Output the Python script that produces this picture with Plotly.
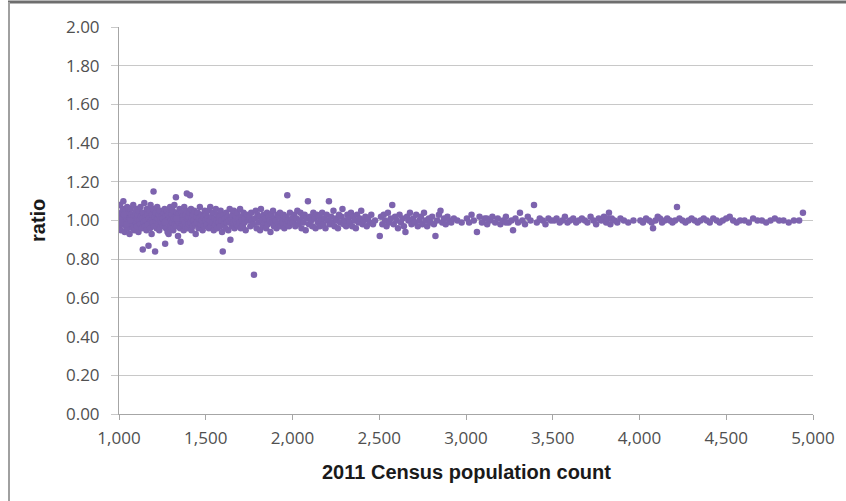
import plotly.graph_objects as go

# ---- data ----
pop1 = [1001,1003,1006,1008,1011,1013,1017,1019,1022,1025,
        1027,1030,1033,1036,1038,1041,1044,1047,1049,1052,
        1056,1058,1061,1064,1067,1070,1072,1076,1079,1082,
        1085,1088,1091,1094,1097,1100,1103,1106,1109,1112,
        1116,1118,1121,1124,1127,1131,1134,1137,1139,1142,
        1146,1149,1152,1155,1158,1161,1164,1167,1170,1173,
        1176,1179,1182,1185,1188,1191,1194,1197,1199,1202,
        1205,1208,1211,1214,1217,1220,1223,1226,1229,1232,
        1235,1238,1241,1244,1247,1004,1015,1028,1043,1066]
ratio1 = [1.02,0.97,1.08,1.00,0.95,1.04,1.01,0.98,1.06,1.10,
          0.99,1.03,0.94,1.01,1.05,0.97,1.00,1.07,0.96,1.02,
          0.99,1.04,0.93,1.01,1.06,0.98,1.03,1.00,0.96,1.08,
          1.02,0.95,1.00,1.04,0.99,1.06,0.97,1.01,1.03,0.94,
          1.05,1.00,0.98,1.07,1.02,0.96,1.01,0.85,1.04,0.99,
          1.09,0.97,1.02,1.00,0.95,1.06,1.03,0.98,0.87,1.01,
          1.05,0.96,1.08,1.00,0.93,1.03,0.99,1.06,1.15,0.97,
          1.02,0.84,1.04,1.00,0.96,1.07,1.01,0.98,1.03,0.95,
          1.05,1.00,0.97,1.02,0.99,1.01,0.99,1.03,0.98,1.00]

pop2 = [1251,1254,1257,1260,1263,1266,1268,1271,1274,1277,
        1280,1283,1286,1289,1292,1295,1298,1301,1304,1307,
        1310,1313,1316,1319,1322,1325,1328,1331,1334,1337,
        1340,1343,1346,1349,1352,1355,1358,1361,1364,1367,
        1370,1373,1376,1379,1382,1385,1388,1391,1394,1397,
        1400,1403,1406,1409,1412,1415,1418,1421,1424,1427,
        1430,1434,1438,1442,1446,1450,1454,1458,1462,1466,
        1470,1474,1478,1482,1486,1490,1494,1497,1265,1330]
ratio2 = [1.01,0.97,1.04,0.99,1.06,0.88,1.02,0.96,1.00,1.05,
          0.94,1.03,0.93,1.01,0.98,1.07,1.00,0.96,1.03,0.99,
          1.05,0.95,1.01,1.08,0.98,1.02,1.12,0.97,1.04,1.00,
          0.92,1.03,0.99,1.06,0.96,0.89,1.01,1.04,0.98,1.02,
          1.00,0.95,1.07,0.99,1.03,0.97,1.05,1.14,1.01,0.96,
          1.02,0.98,1.04,1.13,0.99,1.06,0.95,1.01,0.97,1.03,
          1.00,1.05,0.98,0.93,1.02,0.99,1.04,0.96,1.01,1.07,
          0.98,1.03,1.00,0.95,1.02,0.97,1.05,1.00,0.99,1.01]

pop3 = [1502,1506,1510,1514,1518,1522,1526,1530,1534,1538,
        1542,1546,1550,1554,1558,1562,1566,1570,1574,1578,
        1582,1586,1590,1594,1598,1602,1606,1610,1614,1618,
        1622,1626,1630,1634,1638,1642,1646,1650,1654,1658,
        1662,1666,1670,1674,1678,1682,1686,1690,1694,1698,
        1702,1706,1710,1714,1718,1722,1726,1730,1736,1744]
ratio3 = [1.03,0.98,1.01,1.05,0.96,1.00,1.07,0.97,1.02,0.99,
          1.04,0.95,1.01,0.98,1.06,1.00,0.96,1.03,0.99,1.02,
          0.97,1.05,1.00,0.94,0.84,1.03,0.98,1.01,0.96,1.04,
          0.99,1.02,0.95,1.00,1.06,0.90,1.01,0.97,1.03,0.99,
          1.05,0.96,1.00,1.02,0.98,1.04,0.97,1.01,0.99,1.06,
          0.96,1.02,1.00,0.97,1.04,0.99,1.01,0.95,1.03,1.00]

pop4 = [1752,1757,1762,1767,1772,1778,1783,1788,1793,1798,
        1803,1808,1813,1818,1823,1828,1833,1838,1843,1848,
        1853,1858,1863,1868,1873,1878,1883,1888,1893,1898,
        1903,1908,1913,1918,1923,1928,1933,1938,1943,1948,
        1953,1958,1962,1966,1970,1975,1980,1985,1990,1996]
ratio4 = [1.02,0.97,1.04,1.00,0.98,0.72,1.01,1.05,0.96,1.03,
          0.99,1.02,0.95,1.06,1.00,0.97,1.03,0.99,1.01,0.96,
          1.04,0.98,1.02,1.00,0.94,1.03,0.99,1.05,0.97,1.01,
          1.00,0.96,1.03,0.98,1.02,1.04,0.97,1.00,0.99,1.03,
          0.96,1.01,1.02,0.98,1.13,1.00,0.97,1.04,0.99,1.01]

pop5 = [2003,2010,2016,2022,2028,2034,2040,2046,2052,2058,
        2064,2070,2076,2082,2089,2095,2101,2108,2114,2120,
        2127,2133,2140,2146,2152,2158,2165,2171,2178,2184,
        2190,2197,2203,2210,2216,2223,2229,2236,2242,2249,
        2255,2262,2268,2275,2282,2288,2295,2302,2309,2316,
        2323,2330,2337,2344,2351,2358,2365,2372,2380,2388,
        2396,2404,2412,2420,2428,2436,2445,2454,2464,2476]
ratio5 = [0.99,1.03,0.97,1.01,1.05,0.98,1.00,1.04,0.96,1.02,
          0.99,1.03,0.95,1.01,1.10,0.98,1.02,1.00,0.97,1.04,
          1.01,0.96,1.03,0.99,1.02,0.97,1.00,1.04,0.98,1.01,
          0.96,1.03,1.00,1.10,0.98,1.02,0.99,1.05,0.97,1.01,
          1.00,0.96,1.03,0.99,1.02,1.06,0.98,1.00,0.97,1.03,
          1.01,0.99,1.04,0.97,1.02,1.00,0.96,1.03,0.99,1.01,
          1.05,0.98,1.00,1.02,0.97,1.01,0.99,1.03,0.98,1.00]

pop6 = [2503,2510,2518,2526,2534,2542,2550,2558,2566,2575,
        2583,2591,2600,2608,2617,2625,2634,2642,2651,2660,
        2668,2677,2686,2695,2704,2713,2722,2731,2740,2749,
        2758,2767,2776,2786,2795,2805,2815,2824,2834,2844,
        2853,2863,2873,2883,2893,2904,2915,2930,2950,2975]
ratio6 = [0.92,1.02,0.98,1.03,1.00,0.97,1.04,0.99,1.01,1.08,
          0.98,1.02,1.00,0.96,1.03,0.99,1.01,0.97,0.94,1.02,
          1.00,1.04,0.98,1.01,0.99,1.03,0.97,1.00,1.02,0.98,
          1.04,1.00,0.97,1.01,0.99,1.02,0.98,0.92,1.00,1.03,
          1.05,0.99,1.01,0.98,1.02,1.00,0.99,1.01,1.00,0.99]

pop7 = [3005,3018,3032,3045,3063,3078,3092,3108,3122,3138,
        3152,3168,3183,3198,3214,3230,3246,3262,3271,3285,
        3300,3311,3325,3340,3356,3372,3392,3408,3425,3442,
        3458,3475,3490,3120,3230]
ratio7 = [1.01,0.99,1.03,1.00,0.94,1.02,0.99,1.01,0.98,1.00,
          1.02,0.99,1.01,0.98,1.00,1.02,0.99,1.00,0.95,1.01,
          0.99,1.04,1.00,0.98,1.02,1.00,1.08,0.99,1.01,1.00,
          0.98,1.01,1.00,1.01,0.99]

pop8 = [3508,3522,3540,3555,3570,3585,3600,3618,3635,3650,
        3668,3685,3700,3718,3735,3750,3765,3780,3795,3808,
        3815,3824,3832,3840,3856,3872,3890,3910,3935,3965]
ratio8 = [1.00,1.01,0.99,1.00,1.02,0.99,1.00,1.01,0.99,1.00,
          1.01,1.00,0.99,1.02,1.00,0.98,1.01,1.00,1.02,0.99,
          1.01,1.04,0.98,1.01,1.00,0.99,1.01,1.00,0.99,1.00]

pop9 = [4005,4020,4038,4055,4070,4078,4092,4105,4118,4130,
        4145,4160,4175,4190,4205,4216,4230,4248,4265,4282,
        4300,4318,4335,4352,4370,4388,4405,4425,4445,4462,
        4480,4500,4520,4540,4560,4580,4605,4630,4655,4680,
        4705,4730,4755,4780,4805,4830,4860,4890,4920,4942]
ratio9 = [1.00,0.99,1.01,1.00,0.99,0.96,1.00,1.02,1.01,0.99,
          1.00,1.01,1.00,0.99,1.00,1.07,1.01,1.00,0.99,1.00,
          1.01,1.00,0.99,1.00,1.01,1.00,0.99,1.01,1.00,0.99,
          1.00,1.01,1.02,1.00,0.99,1.00,1.00,0.99,1.01,1.00,
          1.00,0.99,1.00,1.01,1.00,1.00,0.99,1.00,1.00,1.04]

pop0 = [1009,1024,1035,1053,1068,1081,1095,1110,1125,1140,
        1157,1172,1186,1203,1218,1233,1252,1269,1284,1299,
        1315,1332,1348,1363,1378,1393,1408,1423,1438,1452,
        1468,1483,1520,1545,1568,1590,1615,1640,1665,1690]
ratio0 = [0.99,1.01,1.00,0.98,1.02,1.00,0.99,1.01,1.00,0.98,
          1.02,1.00,1.01,0.99,1.00,1.02,0.98,1.00,1.01,0.99,
          1.00,1.02,0.98,1.01,1.00,0.99,1.01,1.00,0.98,1.02,
          1.00,0.99,1.01,1.00,0.98,1.01,1.00,0.99,1.02,1.00]

x_ticks = [1000, 1500, 2000, 2500, 3000, 3500, 4000, 4500, 5000]
y_ticks = [0.0, 0.2, 0.4, 0.6, 0.8, 1.0, 1.2, 1.4, 1.6, 1.8, 2.0]

population = pop0 + pop1 + pop2 + pop3 + pop4 + pop5 + pop6 + pop7 + pop8 + pop9
ratio = ratio0 + ratio1 + ratio2 + ratio3 + ratio4 + ratio5 + ratio6 + ratio7 + ratio8 + ratio9

# ---- figure ----
W, H = 846, 501
L, R, T, B = 119, 33, 27, 87
pw, ph = W - L - R, H - T - B

def px(xp):
    return (xp - L) / pw

def py(yp):
    return (H - B - yp) / ph

fig = go.Figure()
fig.add_trace(go.Scatter(
    x=population, y=ratio, mode="markers",
    marker=dict(color="#7D63AE", size=6.5, line=dict(width=0)),
    hoverinfo="x+y", showlegend=False,
))

tick_font = dict(family="Open Sans, Lato, sans-serif", size=17, color="#505050")
title_font = dict(family="Liberation Sans, Arial, sans-serif", size=20, color="#1a1a1a")

fig.update_layout(
    width=W, height=H,
    margin=dict(l=L, r=R, t=T, b=B),
    paper_bgcolor="white", plot_bgcolor="white",
    xaxis=dict(
        range=[1000, 5000], tickvals=x_ticks, tickformat=",d",
        showgrid=False, zeroline=False,
        showline=True, linecolor="#A6A6A6", linewidth=1,
        ticks="outside", ticklen=5, tickcolor="#A6A6A6",
        tickfont=tick_font, ticklabelstandoff=4,
    ),
    yaxis=dict(
        range=[0, 2], tickvals=y_ticks, tickformat=".2f",
        showgrid=True, gridcolor="#C8C8C8", gridwidth=1,
        zeroline=False,
        showline=True, linecolor="#A6A6A6", linewidth=1,
        ticks="outside", ticklen=7, tickcolor="#C8C8C8",
        tickfont=tick_font, ticklabelstandoff=8,
    ),
    annotations=[
        dict(text="<b>ratio</b>", xref="paper", yref="paper",
             x=px(38), y=py(221), textangle=-90, showarrow=False,
             font=title_font, xanchor="center", yanchor="middle"),
        dict(text="<b>2011 Census population count</b>", xref="paper", yref="paper",
             x=px(466), y=py(472), showarrow=False,
             font=title_font, xanchor="center", yanchor="middle"),
    ],
    shapes=[
        dict(type="line", xref="paper", yref="paper",
             x0=px(8), x1=px(846), y0=py(2), y1=py(2),
             line=dict(color="#6E6E6E", width=3)),
        dict(type="line", xref="paper", yref="paper",
             x0=px(9), x1=px(9), y0=py(2), y1=py(501),
             line=dict(color="#A0A0A0", width=2)),
    ],
)

fig.write_html(
    "out.html",
    config={"displayModeBar": False},
    post_script="document.body.style.margin='0';document.body.style.padding='0';",
)
